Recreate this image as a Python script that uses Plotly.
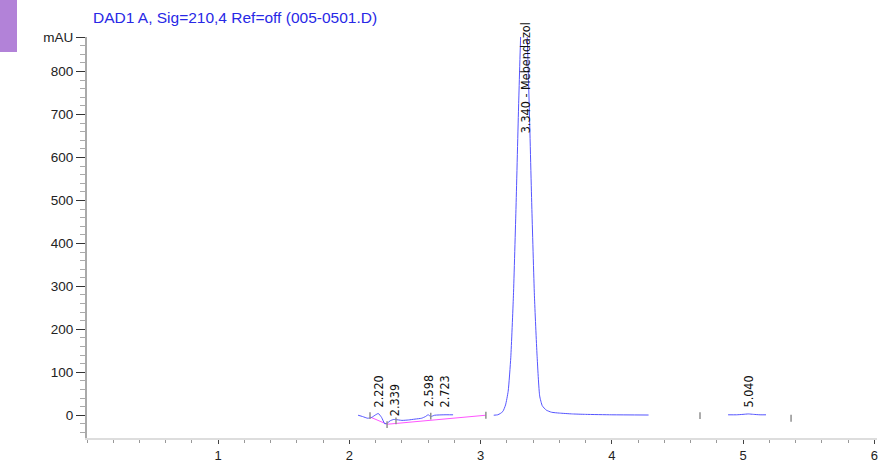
import plotly.graph_objects as go

# ---- data ----
# signal segment 1 (early small peaks)
t_early = [2.066, 2.10, 2.14, 2.17, 2.20, 2.22, 2.245, 2.27, 2.29, 2.31, 2.335, 2.35,
           2.40, 2.45, 2.50, 2.55, 2.58, 2.60, 2.62, 2.65, 2.72, 2.79]
s_early = [0, -3, -7, -5, 1, 4, -5, -20, -18, -13, -10, -10,
           -12, -11, -9, -7, -3, 1, -3, 0, 1, 1]
# signal segment 2 (main peak, Mebendazol)
t_main = [3.10, 3.13, 3.15, 3.17, 3.19, 3.21, 3.23, 3.25, 3.27, 3.29, 3.31, 3.33,
          3.35, 3.37, 3.39, 3.41, 3.43, 3.45, 3.47, 3.50, 3.54, 3.60, 3.70, 3.80,
          4.00, 4.28]
s_main = [0, 1, 4, 9, 24, 56, 135, 278, 487, 726, 923, 1000,
          923, 726, 487, 278, 140, 45, 22, 12, 7, 5, 3, 2,
          1, 0.5]
# signal segment 3 (late small peak)
t_late = [4.886, 4.95, 5.00, 5.04, 5.08, 5.13, 5.175]
s_late = [1, 1, 2, 3, 2, 1, 1]

# integration baselines
base_t = [2.157, 2.287, 3.04]
base_s = [-4, -21, 0]

# integration event marks (time, level)
event_t = [2.157, 2.287, 2.355, 2.62, 3.04, 4.672, 5.366]
event_s = [-1, -22, -13, -2, 0, -1, -7]

# peak labels
peak_rt = [2.220, 2.339, 2.598, 2.723, 3.340, 5.040]
peak_text = ["2.220", "2.339", "2.598", "2.723", "3.340 - Mebendazol", "5.040"]
label_base = [14, -7, 14, 14, 651, 14]

y_ticks = [0, 100, 200, 300, 400, 500, 600, 700, 800, 880]
y_ticktext = ["0", "100", "200", "300", "400", "500", "600", "700", "800", "mAU"]
x_ticks = [1, 2, 3, 4, 5, 6]
title_text = "DAD1 A, Sig=210,4 Ref=off (005-0501.D)"

# ---- figure ----
sig_x = t_early + [None] + t_main + [None] + t_late
sig_y = s_early + [None] + s_main + [None] + s_late

ev_x, ev_y = [], []
for t, s in zip(event_t, event_s):
    ev_x += [t, t, None]
    ev_y += [s - 8, s + 8, None]

fig = go.Figure()
fig.add_trace(go.Scatter(x=base_t, y=base_s, mode="lines",
                         line=dict(color="#ff55ff", width=1), hoverinfo="skip"))
fig.add_trace(go.Scatter(x=sig_x, y=sig_y, mode="lines",
                         line=dict(color="#5555ff", width=1, shape="spline", smoothing=0.5),
                         connectgaps=False))
fig.add_trace(go.Scatter(x=ev_x, y=ev_y, mode="lines",
                         line=dict(color="#909090", width=1.5), hoverinfo="skip"))

label_font = dict(family="Liberation Sans Narrow, DejaVu Sans Condensed, Arial", size=12.5, color="#111111")
for rt, txt, yb in zip(peak_rt, peak_text, label_base):
    fig.add_annotation(x=rt, y=yb, text=txt, textangle=-90, showarrow=False,
                       xanchor="center", yanchor="bottom", font=label_font)

PB, PH = 438, 401  # plot bottom pixel, plot height
fig.add_annotation(xref="paper", yref="paper", x=(91 - 87) / 790, y=(PB - 17) / PH,
                   text=title_text, showarrow=False, xanchor="left", yanchor="middle",
                   font=dict(family="Liberation Sans, Arial", size=15.5, color="#2828e6"))

fig.add_shape(type="rect", xref="paper", yref="paper",
              x0=(0 - 87) / 790, x1=(17 - 87) / 790, y0=(PB - 52) / PH, y1=(PB + 2) / PH,
              fillcolor="#b282d8", line=dict(width=0), layer="above")

fig.update_layout(
    width=878, height=462,
    margin=dict(l=87, r=1, t=37, b=24, autoexpand=False),
    paper_bgcolor="white", plot_bgcolor="white",
    showlegend=False,
    font=dict(family="Liberation Sans, Arial", size=14, color="#222222"),
)
fig.update_xaxes(range=[0, 6.021], tickvals=x_ticks, ticks="outside", ticklen=4,
                 tickcolor="#444444", tickwidth=1, showgrid=False, zeroline=False,
                 showline=True, linecolor="#dddddd", linewidth=2, automargin=False,
                 ticklabeloverflow="allow",
                 minor=dict(dtick=0.2, tick0=0, ticks="outside", ticklen=3, tickcolor="#999999", showgrid=False),
                 tickfont=dict(size=13, color="#222222"))
fig.update_yaxes(range=[-53, 880.5], tickvals=y_ticks, ticktext=y_ticktext, ticks="outside",
                 ticklen=9, tickcolor="#333333", tickwidth=1, showgrid=False, zeroline=False,
                 showline=True, linecolor="#aaaaaa", linewidth=2, automargin=False,
                 minor=dict(dtick=20, tick0=0, ticks="outside", ticklen=5, tickcolor="#aaaaaa", showgrid=False),
                 tickfont=dict(size=13.5, color="#222222"))

fig.write_html("out.html", config={"displayModeBar": False},
               post_script="document.body.style.margin='0';document.body.style.overflow='hidden';")
